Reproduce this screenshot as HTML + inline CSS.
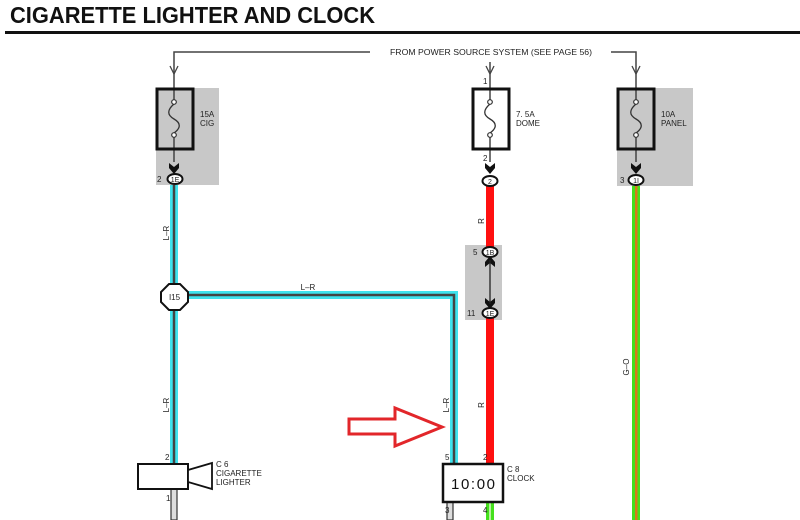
<!DOCTYPE html>
<html><head><meta charset="utf-8"><style>
html,body{margin:0;padding:0;background:#fff;}
svg{display:block;}
text{font-family:"Liberation Sans",Arial,sans-serif;fill:#222;}
</style></head><body>
<svg width="800" height="520" viewBox="0 0 800 520" xmlns="http://www.w3.org/2000/svg">
<rect width="800" height="520" fill="#fff"/>
<!-- Title -->
<text x="10" y="23" font-size="23" font-weight="bold" textLength="365" lengthAdjust="spacingAndGlyphs" style="fill:#111">CIGARETTE LIGHTER AND CLOCK</text>
<rect x="5" y="31" width="795" height="3" fill="#111"/>

<!-- gray boxes -->
<rect x="156" y="88" width="63" height="97" fill="#c8c8c8"/>
<rect x="617" y="88" width="76" height="98" fill="#c8c8c8"/>
<rect x="465" y="245" width="37" height="75" fill="#c8c8c8"/>

<!-- power source line -->
<polyline points="370,52 174,52 174,100" fill="none" stroke="#444" stroke-width="1.5"/>
<line x1="174" y1="137" x2="174" y2="162" stroke="#444" stroke-width="1.5"/>
<text x="390" y="55" font-size="8" textLength="202" lengthAdjust="spacingAndGlyphs">FROM POWER SOURCE SYSTEM (SEE PAGE 56)</text>
<polyline points="611,52 636,52 636,100" fill="none" stroke="#444" stroke-width="1.5"/>
<line x1="636" y1="137" x2="636" y2="162" stroke="#444" stroke-width="1.5"/>
<line x1="490" y1="62" x2="490" y2="100" stroke="#444" stroke-width="1.5"/>
<line x1="490" y1="137" x2="490" y2="162" stroke="#444" stroke-width="1.5"/>
<!-- open arrows -->
<polyline points="170,66 174,74 178,66" fill="none" stroke="#444" stroke-width="1.3"/>
<polyline points="486,66 490,74 494,66" fill="none" stroke="#444" stroke-width="1.3"/>
<polyline points="632,66 636,74 640,66" fill="none" stroke="#444" stroke-width="1.3"/>
<text x="483" y="84" font-size="8">1</text>

<!-- fuses -->
<g fill="none" stroke="#111">
<rect x="157" y="89" width="36" height="60" stroke-width="3"/>
<rect x="473" y="89" width="36" height="60" stroke-width="3"/>
<rect x="618" y="89" width="36" height="60" stroke-width="3"/>
</g>
<g stroke="#333" stroke-width="1.3" fill="none">
<path d="M174,104 C167,110 167,115 174,119 C181,123 181,128 174,133"/>
<path d="M490,104 C483,110 483,115 490,119 C497,123 497,128 490,133"/>
<path d="M636,104 C629,110 629,115 636,119 C643,123 643,128 636,133"/>
</g>
<g fill="#fff" stroke="#333" stroke-width="1.2">
<circle cx="174" cy="102" r="2.3"/><circle cx="174" cy="135" r="2.3"/>
<circle cx="490" cy="102" r="2.3"/><circle cx="490" cy="135" r="2.3"/>
<circle cx="636" cy="102" r="2.3"/><circle cx="636" cy="135" r="2.3"/>
</g>
<g font-size="8">
<text x="200" y="117">15A</text><text x="200" y="126">CIG</text>
<text x="516" y="117">7. 5A</text><text x="516" y="126">DOME</text>
<text x="661" y="117">10A</text><text x="661" y="126">PANEL</text>
</g>

<!-- wires -->
<g fill="none" stroke-linejoin="miter">
<polyline points="174,185 174,464" stroke="#3fe3ee" stroke-width="8"/>
<polyline points="174,295 454,295 454,464" stroke="#3fe3ee" stroke-width="8"/>
<polyline points="174,185 174,464" stroke="#444" stroke-width="2.5"/>
<polyline points="174,295 454,295 454,464" stroke="#444" stroke-width="2.5"/>
</g>
<!-- red R -->
<rect x="486" y="186" width="8" height="61" fill="#ff1010"/>
<rect x="486" y="318" width="8" height="146" fill="#ff1010"/>
<!-- green G-O -->
<rect x="632" y="186" width="8" height="334" fill="#44e01c"/>
<rect x="635" y="186" width="2.5" height="334" fill="#d77a1a"/>
<rect x="486" y="502" width="8" height="18" fill="#44e01c"/>
<rect x="489" y="502" width="2" height="18" fill="#b8f0a0"/>
<!-- black wires -->
<rect x="171" y="483" width="6" height="37" fill="#ddd" stroke="#333" stroke-width="1.2"/>
<rect x="447" y="502" width="6" height="18" fill="#ddd" stroke="#333" stroke-width="1.2"/>

<!-- arrowheads -->
<g fill="#111">
<polygon points="169,163 174,167 179,163 179,168 174,174 169,168"/>
<polygon points="485,163 490,167 495,163 495,168 490,174 485,168"/>
<polygon points="631,163 636,167 641,163 641,168 636,174 631,168"/>
<polygon points="485,267 490,263 495,267 495,262 490,256 485,262"/>
<polygon points="485,298 490,302 495,298 495,303 490,309 485,303"/>
</g>
<line x1="490" y1="260" x2="490" y2="304" stroke="#222" stroke-width="1.3"/>

<!-- connector ovals -->
<g fill="#fff" stroke="#111" stroke-width="2">
<ellipse cx="175" cy="179" rx="7.5" ry="5"/>
<ellipse cx="490" cy="181" rx="7.5" ry="5"/>
<ellipse cx="636" cy="180" rx="7.5" ry="5"/>
<ellipse cx="490" cy="252" rx="7.5" ry="5"/>
<ellipse cx="490" cy="313" rx="7.5" ry="5"/>
</g>
<g font-size="7" text-anchor="middle">
<text x="175" y="182">1E</text>
<text x="490" y="184">2</text>
<text x="636" y="183">1I</text>
<text x="490" y="255">1B</text>
<text x="490" y="316">1E</text>
</g>
<g font-size="8">
<text x="157" y="182">2</text>
<text x="483" y="161">2</text>
<text x="620" y="183">3</text>
<text x="473" y="255">5</text>
<text x="467" y="316">11</text>
</g>

<!-- I15 octagon -->
<polygon points="169,284 180,284 188,292 188,302 180,310 169,310 161,302 161,292" fill="#fff" stroke="#111" stroke-width="2"/>
<text x="174.5" y="300" font-size="8" text-anchor="middle">I15</text>

<!-- wire labels -->
<g font-size="8">
<text x="308" y="290" text-anchor="middle">L–R</text>
<text transform="translate(169,233) rotate(-90)" text-anchor="middle">L–R</text>
<text transform="translate(169,405) rotate(-90)" text-anchor="middle">L–R</text>
<text transform="translate(449,405) rotate(-90)" text-anchor="middle">L–R</text>
<text transform="translate(484,221) rotate(-90)" text-anchor="middle">R</text>
<text transform="translate(484,405) rotate(-90)" text-anchor="middle">R</text>
<text transform="translate(629,367) rotate(-90)" text-anchor="middle">G–O</text>
</g>

<!-- cigarette lighter -->
<rect x="138" y="464" width="50" height="25" fill="#fff" stroke="#111" stroke-width="2"/>
<polygon points="188,470 212,463 212,489 188,482" fill="#fff" stroke="#111" stroke-width="1.8"/>
<g font-size="8">
<text x="165" y="460">2</text>
<text x="166" y="501">1</text>
<text x="216" y="467">C 6</text>
<text x="216" y="476">CIGARETTE</text>
<text x="216" y="485">LIGHTER</text>
</g>

<!-- clock -->
<rect x="443" y="464" width="60" height="38" fill="#fff" stroke="#111" stroke-width="2.5"/>
<text x="473" y="489" font-size="15" text-anchor="middle" textLength="44" lengthAdjust="spacing" style="fill:#111">10:00</text>
<g font-size="8">
<text x="445" y="460">5</text>
<text x="483" y="460">2</text>
<text x="445" y="513">3</text>
<text x="483" y="513">4</text>
<text x="507" y="472">C 8</text>
<text x="507" y="481">CLOCK</text>
</g>

<!-- red hollow arrow -->
<polygon points="349,419 395,419 395,408 442,427 395,446 395,434 349,434" fill="#fff" stroke="#e2262a" stroke-width="3" stroke-linejoin="miter"/>
</svg>
</body></html>
